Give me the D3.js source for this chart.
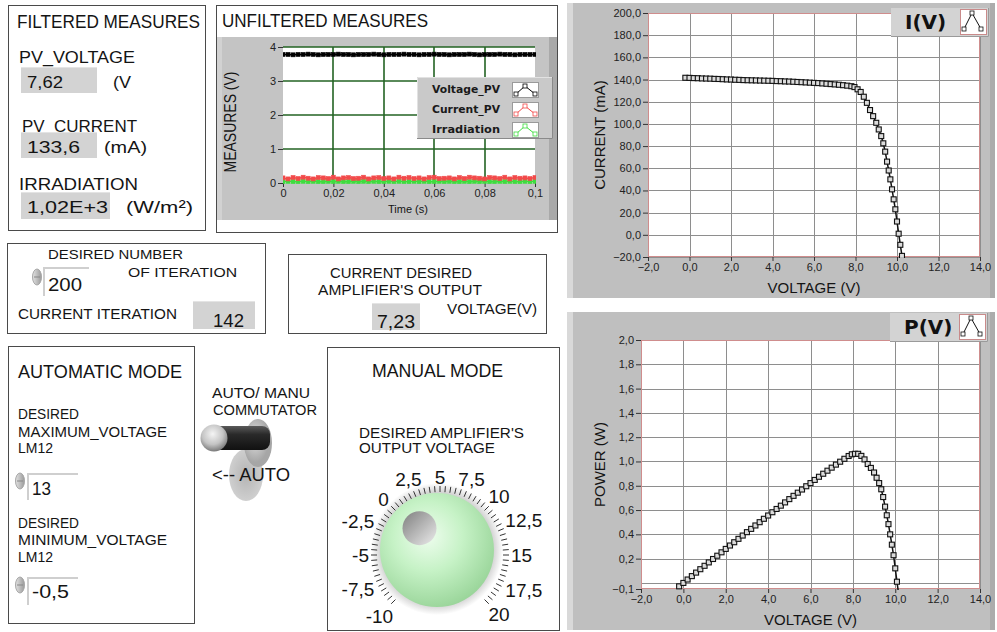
<!DOCTYPE html>
<html><head><meta charset="utf-8">
<script src="https://cdn.jsdelivr.net/npm/d3@7"></script>
<style>
html,body{margin:0;padding:0;background:#fff;}
svg{display:block;}
</style></head><body>
<svg id="c" width="997" height="632"></svg>
<script>
// ---------------- DATA ----------------
const ivVoltage = [-0.2,0.0,0.2,0.4,0.6,0.8,1.0,1.2,1.4,1.6,1.8,2.0,2.2,2.4,2.6,2.8,3.0,3.2,3.4,3.6,3.8,4.0,4.2,4.4,4.6,4.8,5.0,5.2,5.4,5.6,5.8,6.0,6.2,6.4,6.6,6.8,7.0,7.2,7.4,7.6,7.8,
  7.95,8.1,8.25,8.4,8.55,8.7,8.85,9.0,9.12,9.24,9.34,9.43,9.52,9.6,9.68,9.76,9.84,9.92,10.0,10.08,10.16,10.24];
const ivCurrent = [141.6,141.5,141.3,141.2,141.0,140.9,140.8,140.6,140.5,140.3,140.1,140.0,139.8,139.7,139.5,139.4,139.3,139.2,139.1,139.0,138.9,138.8,138.6,138.5,138.3,138.2,138.0,137.8,137.6,137.4,137.2,137.0,136.8,136.5,136.2,135.9,135.6,135.3,134.9,134.5,134.0,
  133.2,131.2,128.8,124.5,119.0,112.5,107.0,101.0,95.0,89.0,82.5,75.0,66.0,58.0,50.0,41.0,32.0,23.0,12.0,1.0,-9.0,-19.0];
const pvPower = [-0.028,0.000,0.028,0.056,0.085,0.113,0.141,0.169,0.197,0.224,0.252,0.280,0.308,0.335,0.363,0.390,0.418,0.445,0.473,0.500,0.528,0.555,0.582,0.609,0.636,0.663,0.690,0.717,0.743,0.769,0.796,0.822,0.848,0.874,0.899,0.924,0.949,0.974,0.998,1.022,1.045,
  1.059,1.063,1.063,1.046,1.017,0.979,0.947,0.909,0.866,0.822,0.771,0.707,0.628,0.557,0.484,0.400,0.315,0.228,0.120,0.010,-0.091,-0.195];
const voltageTicks = [-2,0,2,4,6,8,10,12,14];
const currentTicks = [-20,0,20,40,60,80,100,120,140,160,180,200];
const powerGrid = [0,0.2,0.4,0.6,0.8,1.0,1.2,1.4,1.6,1.8,2.0];
const powerTickLabels = [-0.05,0.2,0.4,0.6,0.8,1.0,1.2,1.4,1.6,1.8,2.0];
const powerDomain = [-0.05,2.0];

const unfSeriesNames = ["Voltage_PV","Current_PV","Irradiation"];
const unfDt = 0.002;
const unfVoltage = [3.78,3.78,3.77,3.78,3.78,3.79,3.78,3.77,3.78,3.78,3.78,3.79,3.78,3.78,3.77,3.78,3.78,3.78,3.79,3.78,3.77,3.78,3.78,3.78,3.79,3.78,3.78,3.77,3.78,3.78,3.79,3.78,3.78,3.77,3.78,3.78,3.78,3.79,3.78,3.77,3.78,3.78,3.78,3.79,3.78,3.78,3.77,3.78,3.78,3.78,3.78];
const unfCurrent = [0.15,0.12,0.16,0.13,0.17,0.14,0.12,0.16,0.15,0.13,0.17,0.12,0.15,0.16,0.13,0.14,0.17,0.12,0.15,0.16,0.13,0.15,0.12,0.17,0.14,0.16,0.13,0.15,0.12,0.16,0.17,0.13,0.14,0.15,0.12,0.16,0.13,0.17,0.15,0.14,0.12,0.16,0.15,0.13,0.17,0.12,0.16,0.14,0.15,0.13,0.16];
const unfIrradiation = [0.04,0.05,0.04,0.04,0.05,0.04,0.05,0.04,0.04,0.05,0.04,0.05,0.04,0.04,0.05,0.04,0.05,0.04,0.05,0.04,0.04,0.05,0.04,0.05,0.04,0.04,0.05,0.04,0.05,0.04,0.04,0.05,0.04,0.05,0.04,0.04,0.05,0.04,0.05,0.04,0.05,0.04,0.04,0.05,0.04,0.05,0.04,0.04,0.05,0.04,0.05];
const unfTimeTicks = [0,0.02,0.04,0.06,0.08,0.1];
const unfYTicks = [0,1,2,3,4];

const filteredLabels = ["PV_VOLTAGE","PV_CURRENT","IRRADIATION"];
const filteredValues = ["7,62","133,6","1,02E+3"];
const filteredUnits = ["(V","(mA)","(W/m²)"];
const desiredIterations = 200;
const currentIteration = 142;
const currentDesiredVoltage = "7,23";
const maxVoltage = "13";
const minVoltage = "-0,5";
const knobValue = 0.7;
const knobLabels = [-10,-7.5,-5,-2.5,0,2.5,5,7.5,10,12.5,15,17.5,20];

// ---------------- HELPERS ----------------
const svg = d3.select("#c");
const SANS = '"Liberation Sans", Arial, sans-serif';
const loc = d3.formatLocale({decimal:",", thousands:".", grouping:[3], currency:["",""]});
const f1 = loc.format(".1f");
const comma = d => String(d).replace(".", ",");
const defs = svg.append("defs");
const crisp = v => Math.round(v) + 0.5;

function txt(x, y, s, size, width, extra) {
  const t = svg.append("text").attr("x", x).attr("y", y).attr("font-family", SANS)
    .attr("font-size", size).attr("fill", "#141414").text(s);
  if (width) t.attr("textLength", width).attr("lengthAdjust", "spacingAndGlyphs");
  if (extra) for (const k in extra) t.attr(k, extra[k]);
  return t;
}
function frame(x, y, w, h) {
  svg.append("rect").attr("x", x + 0.5).attr("y", y + 0.5).attr("width", w).attr("height", h)
    .attr("fill", "#fff").attr("stroke", "#4a4a4a").attr("stroke-width", 1);
}
function indicator(x, y, w, h) {
  svg.append("rect").attr("x", x).attr("y", y).attr("width", w).attr("height", h).attr("fill", "#d3d3d3");
  svg.append("line").attr("x1", x).attr("x2", x + w).attr("y1", y + 0.5).attr("y2", y + 0.5).attr("stroke", "#e4e4e4");
}
function control(x, y, w, h) {
  svg.append("rect").attr("x", x).attr("y", y).attr("width", w).attr("height", h).attr("fill", "#fff");
  svg.append("path").attr("d", `M${x+1},${y+h} V${y+1} H${x+w}`).attr("fill", "none").attr("stroke", "#cfcfcf").attr("stroke-width", 2);
}
const spinGrad = defs.append("linearGradient").attr("id", "spin").attr("x1", 0).attr("x2", 1);
spinGrad.append("stop").attr("offset", 0).attr("stop-color", "#e2e2e2");
spinGrad.append("stop").attr("offset", 1).attr("stop-color", "#9a9a9a");
function spinner(cx, cy) {
  svg.append("ellipse").attr("cx", cx).attr("cy", cy).attr("rx", 4.5).attr("ry", 8).attr("fill", "url(#spin)").attr("stroke", "#a8a8a8");
  svg.append("line").attr("x1", cx - 3).attr("x2", cx + 3).attr("y1", cy).attr("y2", cy).attr("stroke", "#888");
}

// ---------------- FILTERED MEASURES ----------------
frame(8, 5, 197, 225);
txt(17, 28, "FILTERED MEASURES", 18, 183);
const fLab = [[19,63,116],[22,132,115],[19,190,119]];
const fBox = [[21,67,76,26],[21,132,76,26],[21,192,89,27]];
const fVal = [[27,88,36],[27,153,53],[27,213,81]];
const fUnit = [[113,88,18],[104,153,43],[126,213,67]];
filteredLabels.forEach((l, i) => {
  txt(fLab[i][0], fLab[i][1], l, 17, fLab[i][2]);
  indicator(...fBox[i]);
  txt(fVal[i][0], fVal[i][1], filteredValues[i], 17, fVal[i][2]);
  txt(fUnit[i][0], fUnit[i][1], filteredUnits[i], 17, fUnit[i][2]);
});

// ---------------- ITERATION PANEL ----------------
frame(7, 243, 258, 90);
txt(48, 259, "DESIRED NUMBER", 13.5, 135);
txt(128, 277, "OF ITERATION", 13.5, 109);
control(43, 267, 46, 29);
spinner(37, 277);
txt(48, 291, String(desiredIterations), 18, 34);
txt(18, 319, "CURRENT ITERATION", 14, 159);
indicator(193, 301, 62, 28);
txt(213, 327, String(currentIteration), 18, 31);

// ---------------- CURRENT DESIRED PANEL ----------------
frame(288, 254, 258, 79);
txt(330, 278, "CURRENT DESIRED", 14, 142);
txt(318, 295, "AMPLIFIER'S  OUTPUT", 14, 164);
txt(447, 314, "VOLTAGE(V)", 14, 90);
indicator(372, 303, 48, 27);
txt(377, 328, currentDesiredVoltage, 18, 38);

// ---------------- AUTOMATIC MODE ----------------
frame(8, 346, 186, 277);
txt(18, 378, "AUTOMATIC MODE", 18, 164);
txt(18, 419, "DESIRED", 14, 61);
txt(18, 437, "MAXIMUM_VOLTAGE", 14, 149);
txt(18, 453, "LM12", 14, 35);
control(27, 473, 51, 27);
spinner(20, 481);
txt(32, 495, maxVoltage, 18, 19);
txt(18, 528, "DESIRED", 14, 61);
txt(18, 545, "MINIMUM_VOLTAGE", 14, 149);
txt(18, 562, "LM12", 14, 35);
control(27, 577, 51, 28);
spinner(20, 585);
txt(32, 598, minVoltage, 18, 37);

// ---------------- TOGGLE ----------------
txt(212, 398, "AUTO/ MANU", 14, 98);
txt(213, 415, "COMMUTATOR", 14, 104);
const shadowG = defs.append("radialGradient").attr("id", "tshadow");
shadowG.append("stop").attr("offset", 0).attr("stop-color", "#b4b4b4");
shadowG.append("stop").attr("offset", 1).attr("stop-color", "#cfcfcf");
svg.append("ellipse").attr("cx", 246).attr("cy", 475).attr("rx", 17).attr("ry", 26).attr("fill", "url(#tshadow)");
const baseG = defs.append("radialGradient").attr("id", "tbase").attr("cx", "40%").attr("cy", "40%");
baseG.append("stop").attr("offset", 0).attr("stop-color", "#e0e0e0");
baseG.append("stop").attr("offset", 1).attr("stop-color", "#a6a6a6");
svg.append("ellipse").attr("cx", 258).attr("cy", 443).attr("rx", 14).attr("ry", 24).attr("fill", "url(#tbase)");
const leverG = defs.append("linearGradient").attr("id", "lever").attr("x1", 0).attr("x2", 0).attr("y1", 0).attr("y2", 1);
leverG.append("stop").attr("offset", 0).attr("stop-color", "#5a5a5a");
leverG.append("stop").attr("offset", 0.35).attr("stop-color", "#2a2a2a");
leverG.append("stop").attr("offset", 1).attr("stop-color", "#111");
svg.append("rect").attr("x", 212).attr("y", 426).attr("width", 58).attr("height", 24).attr("rx", 8).attr("fill", "url(#lever)");
const ballG = defs.append("radialGradient").attr("id", "ball").attr("cx", "45%").attr("cy", "35%").attr("r", "65%");
ballG.append("stop").attr("offset", 0).attr("stop-color", "#f4f4f4");
ballG.append("stop").attr("offset", 0.6).attr("stop-color", "#c4c4c4");
ballG.append("stop").attr("offset", 1).attr("stop-color", "#7a7a7a");
svg.append("circle").attr("cx", 214).attr("cy", 438).attr("r", 13.5).attr("fill", "url(#ball)");
txt(212, 481, "<-- AUTO", 18, 78);

// ---------------- MANUAL MODE ----------------
frame(327, 347, 232, 283);
txt(372, 377, "MANUAL MODE", 18, 131);
txt(359, 438, "DESIRED AMPLIFIER'S", 14, 165);
txt(359, 453, "OUTPUT  VOLTAGE", 14, 136);
const dcx = 440, dcy = 555;
const ang = v => (v - 5) / 2.5 * 22.5 * Math.PI / 180;
const halo = defs.append("radialGradient").attr("id", "halo");
halo.append("stop").attr("offset", 0.82).attr("stop-color", "#c8c8c8");
halo.append("stop").attr("offset", 1).attr("stop-color", "#ffffff");
svg.append("circle").attr("cx", 437).attr("cy", 549).attr("r", 66).attr("fill", "url(#halo)");
const minorTicks = d3.range(-10, 20.01, 0.5);
svg.append("g").selectAll("line").data(minorTicks).join("line")
  .attr("x1", v => dcx + 63 * Math.sin(ang(v))).attr("y1", v => dcy - 63 * Math.cos(ang(v)))
  .attr("x2", v => dcx + 69 * Math.sin(ang(v))).attr("y2", v => dcy - 69 * Math.cos(ang(v)))
  .attr("stroke", "#333").attr("stroke-width", 1);
const kg = svg.append("g");
knobLabels.forEach(v => {
  const a = ang(v);
  const t = kg.append("text").attr("font-family", SANS).attr("font-size", 19).attr("fill", "#141414")
    .attr("text-anchor", "middle").text(comma(v));
  const w = t.node().getComputedTextLength();
  const ext = Math.abs(Math.sin(a)) * w / 2 + Math.abs(Math.cos(a)) * 7;
  const R = 71 + ext;
  t.attr("x", dcx + R * Math.sin(a)).attr("y", dcy - R * Math.cos(a) + 7);
});
const sph = defs.append("radialGradient").attr("id", "sph").attr("cx", "42%").attr("cy", "38%").attr("r", "68%");
sph.append("stop").attr("offset", 0).attr("stop-color", "#eefdee");
sph.append("stop").attr("offset", 0.45).attr("stop-color", "#c6f2c6");
sph.append("stop").attr("offset", 1).attr("stop-color", "#95d295");
svg.append("circle").attr("cx", 437).attr("cy", 550).attr("r", 57).attr("fill", "url(#sph)");
const dotG = defs.append("linearGradient").attr("id", "dot").attr("x1", 0).attr("y1", 0).attr("x2", 1).attr("y2", 1);
dotG.append("stop").attr("offset", 0).attr("stop-color", "#7e7e7e");
dotG.append("stop").attr("offset", 1).attr("stop-color", "#ececec");
const ka = ang(knobValue);
svg.append("circle").attr("cx", 437 + 28 * Math.sin(ka)).attr("cy", 550 - 28 * Math.cos(ka)).attr("r", 17).attr("fill", "url(#dot)");

// ---------------- UNFILTERED MEASURES ----------------
frame(216, 5, 341, 227);
txt(222, 27, "UNFILTERED MEASURES", 18, 206);
svg.append("rect").attr("x", 217).attr("y", 37).attr("width", 340).attr("height", 183).attr("fill", "#c4c4c4");
svg.append("rect").attr("x", 549).attr("y", 37).attr("width", 8).attr("height", 183).attr("fill", "#a9a9a9");
svg.append("rect").attr("x", 217).attr("y", 37).attr("width", 5).attr("height", 183).attr("fill", "#d2d2d2");
const ux = d3.scaleLinear([0, 0.1], [283, 535]);
const uy = d3.scaleLinear([0, 4], [183, 47]);
svg.append("rect").attr("x", 283).attr("y", 47).attr("width", 252).attr("height", 136).attr("fill", "#fff");
const ug = svg.append("g");
ug.append("g").selectAll("line").data(unfTimeTicks.slice(1, -1)).join("line")
  .attr("x1", d => Math.round(ux(d))).attr("x2", d => Math.round(ux(d)))
  .attr("y1", 47).attr("y2", 183).attr("stroke", "#236323").attr("stroke-width", 1.6);
ug.append("g").selectAll("line").data(unfYTicks.slice(1)).join("line")
  .attr("y1", d => Math.round(uy(d))).attr("y2", d => Math.round(uy(d)))
  .attr("x1", 283).attr("x2", 535).attr("stroke", "#236323").attr("stroke-width", 1.6);
function styleAxis(g, size) {
  g.select(".domain").remove();
  g.selectAll("text").attr("font-family", SANS).attr("font-size", size).attr("fill", "#222");
  g.selectAll(".tick line").attr("stroke", "#333");
}
svg.append("g").attr("transform", "translate(283,0)")
  .call(d3.axisLeft(uy).tickValues(unfYTicks).tickFormat(d => d).tickSize(5).tickPadding(2))
  .call(g => styleAxis(g, 11));
svg.append("g").attr("transform", "translate(0,183)")
  .call(d3.axisBottom(ux).tickValues(unfTimeTicks).tickFormat(comma).tickSize(4).tickPadding(2))
  .call(g => styleAxis(g, 11));
txt(408, 213, "Time (s)", 11, null, {"text-anchor": "middle"});
txt(0, 0, "MEASURES (V)", 17, 101, {"text-anchor": "middle", transform: "translate(236,122) rotate(-90)"});
const unfColors = ["#000000", "#f24a4a", "#3fdc3f"];
const unfData = [unfVoltage, unfCurrent, unfIrradiation];
defs.append("clipPath").attr("id", "uclip").append("rect").attr("x", 283).attr("y", 44).attr("width", 253).attr("height", 140);
const useries = svg.append("g").attr("clip-path", "url(#uclip)");
[2, 1, 0].forEach(si => {
  const vals = unfData[si];
  const line = d3.line().x((d, i) => ux(i * unfDt)).y(d => uy(d));
  useries.append("path").attr("d", line(vals)).attr("fill", "none").attr("stroke", unfColors[si]).attr("stroke-width", 1.5);
  useries.append("g").selectAll("rect").data(vals).join("rect")
    .attr("x", (d, i) => ux(i * unfDt) - 2).attr("y", d => uy(d) - 2).attr("width", 4).attr("height", 4)
    .attr("fill", unfColors[si]).attr("stroke", unfColors[si]).attr("stroke-width", 0.6);
});
// legend
svg.append("rect").attr("x", 417).attr("y", 77).attr("width", 136).attr("height", 62).attr("fill", "#c9c9c9");
svg.append("path").attr("d", "M417.5,139 V77.5 H553").attr("fill", "none").attr("stroke", "#e2e2e2");
svg.append("path").attr("d", "M417,138.5 H552.5 V77").attr("fill", "none").attr("stroke", "#8a8a8a");
unfSeriesNames.forEach((n, i) => {
  const by = 82 + i * 20;
  svg.append("text").attr("x", 432).attr("y", by + 11).attr("font-family", '"DejaVu Sans", Verdana, sans-serif')
    .attr("font-weight", "bold").attr("font-size", 11).attr("fill", "#1a1a1a").text(n)
    .attr("textLength", 68).attr("lengthAdjust", "spacingAndGlyphs");
  svg.append("rect").attr("x", 512.5).attr("y", by + 0.5).attr("width", 26).attr("height", 15).attr("fill", "#fff").attr("stroke", "#9a9a9a");
  const pts = [[516, by + 12], [525, by + 4], [535, by + 12]];
  svg.append("polyline").attr("points", pts.map(p => p.join(",")).join(" ")).attr("fill", "none").attr("stroke", unfColors[i]);
  pts.forEach(p => svg.append("rect").attr("x", p[0] - 2).attr("y", p[1] - 2).attr("width", 4).attr("height", 4)
    .attr("fill", "#fff").attr("stroke", unfColors[i]).attr("stroke-width", 0.8));
});

// ---------------- XY GRAPHS ----------------
function xyGraph(opt) {
  const {panel, plot, xDomain, yDomain, yGrid, yLabels, yFmt, yTitle, yTitleX, title, legend, ys, clipId} = opt;
  const [px, py, pw, ph] = panel;
  svg.append("rect").attr("x", px).attr("y", py).attr("width", pw).attr("height", ph).attr("fill", "#bfbfbf");
  svg.append("rect").attr("x", px).attr("y", py).attr("width", 6).attr("height", ph).attr("fill", "#d9d9d9");
  svg.append("rect").attr("x", px + pw - 5).attr("y", py).attr("width", 5).attr("height", ph).attr("fill", "#acacac");
  const [l, t, r, b] = plot;
  const x = d3.scaleLinear(xDomain, [l, r]);
  const y = d3.scaleLinear(yDomain, [b, t]);
  svg.append("rect").attr("x", l).attr("y", t).attr("width", r - l).attr("height", b - t).attr("fill", "#fff");
  const g = svg.append("g");
  g.append("g").selectAll("line").data(voltageTicks).join("line").attr("x1", d => crisp(x(d))).attr("x2", d => crisp(x(d)))
    .attr("y1", t).attr("y2", b).attr("stroke", "#8e8e8e");
  g.append("g").selectAll("line").data(yGrid).join("line").attr("y1", d => crisp(y(d))).attr("y2", d => crisp(y(d)))
    .attr("x1", l).attr("x2", r).attr("stroke", "#8e8e8e");
  svg.append("g").attr("transform", `translate(${l},0)`)
    .call(d3.axisLeft(y).tickValues(yLabels).tickFormat(yFmt).tickSize(5).tickPadding(2))
    .call(gg => styleAxis(gg, 11));
  svg.append("g").attr("transform", `translate(0,${b})`)
    .call(d3.axisBottom(x).tickValues(voltageTicks).tickFormat(f1).tickSize(4).tickPadding(2))
    .call(gg => styleAxis(gg, 11));
  svg.append("rect").attr("x", l + 0.5).attr("y", t + 0.5).attr("width", r - l - 1).attr("height", b - t - 1)
    .attr("fill", "none").attr("stroke", "#cf8d8d");
  defs.append("clipPath").attr("id", clipId).append("rect").attr("x", l - 3).attr("y", t).attr("width", r - l + 3).attr("height", b - t + 1);
  const sg = svg.append("g").attr("clip-path", `url(#${clipId})`);
  const line = d3.line().x((d, i) => x(ivVoltage[i])).y(d => y(d));
  sg.append("path").attr("d", line(ys)).attr("fill", "none").attr("stroke", "#111").attr("stroke-width", 1.5);
  sg.append("g").selectAll("rect").data(ys).join("rect")
    .attr("x", (d, i) => x(ivVoltage[i]) - 2.5).attr("y", d => y(d) - 2.5).attr("width", 5).attr("height", 5)
    .attr("fill", "#dcdcdc").attr("stroke", "#111").attr("stroke-width", 1.1);
  txt((l + r) / 2, opt.xTitleY, "VOLTAGE (V)", 15, null, {"text-anchor": "middle"});
  txt(0, 0, yTitle, 15, null, {"text-anchor": "middle", transform: `translate(${yTitleX},${(t + b) / 2}) rotate(-90)`});
  // legend
  const [lx, ly] = legend;
  svg.append("rect").attr("x", lx).attr("y", ly).attr("width", 98).attr("height", 29).attr("fill", "#d3d3d3");
  svg.append("path").attr("d", `M${lx},${ly + 28.5} H${lx + 97.5} V${ly}`).attr("fill", "none").attr("stroke", "#9a9a9a");
  svg.append("text").attr("x", lx + 14).attr("y", ly + 21).attr("font-family", '"DejaVu Sans", Verdana, sans-serif')
    .attr("font-weight", "bold").attr("font-size", 20).attr("fill", "#111").text(title);
  svg.append("rect").attr("x", lx + 69.5).attr("y", ly + 1.5).attr("width", 26).attr("height", 25).attr("fill", "#fff").attr("stroke", "#c98a8a");
  const pts = [[lx + 73, ly + 21], [lx + 81, ly + 5], [lx + 90, ly + 21]];
  svg.append("polyline").attr("points", pts.map(p => p.join(",")).join(" ")).attr("fill", "none").attr("stroke", "#111");
  pts.forEach(p => svg.append("rect").attr("x", p[0] - 2).attr("y", p[1] - 2).attr("width", 4).attr("height", 4)
    .attr("fill", "#fff").attr("stroke", "#111").attr("stroke-width", 0.8));
}

xyGraph({panel: [567, 3, 428, 295], plot: [648, 13, 980, 257], xDomain: [-2, 14], yDomain: [-20, 200],
  yGrid: currentTicks, yLabels: currentTicks, yFmt: f1, yTitle: "CURRENT (mA)", yTitleX: 605,
  title: "I(V)", legend: [891, 8], ys: ivCurrent, clipId: "iclip", xTitleY: 293});
xyGraph({panel: [567, 312, 428, 318], plot: [641, 340, 980, 589], xDomain: [-2, 14], yDomain: powerDomain,
  yGrid: powerGrid, yLabels: powerTickLabels, yFmt: f1, yTitle: "POWER (W)", yTitleX: 605,
  title: "P(V)", legend: [890, 313], ys: pvPower, clipId: "pclip", xTitleY: 625});
</script>
</body></html>
